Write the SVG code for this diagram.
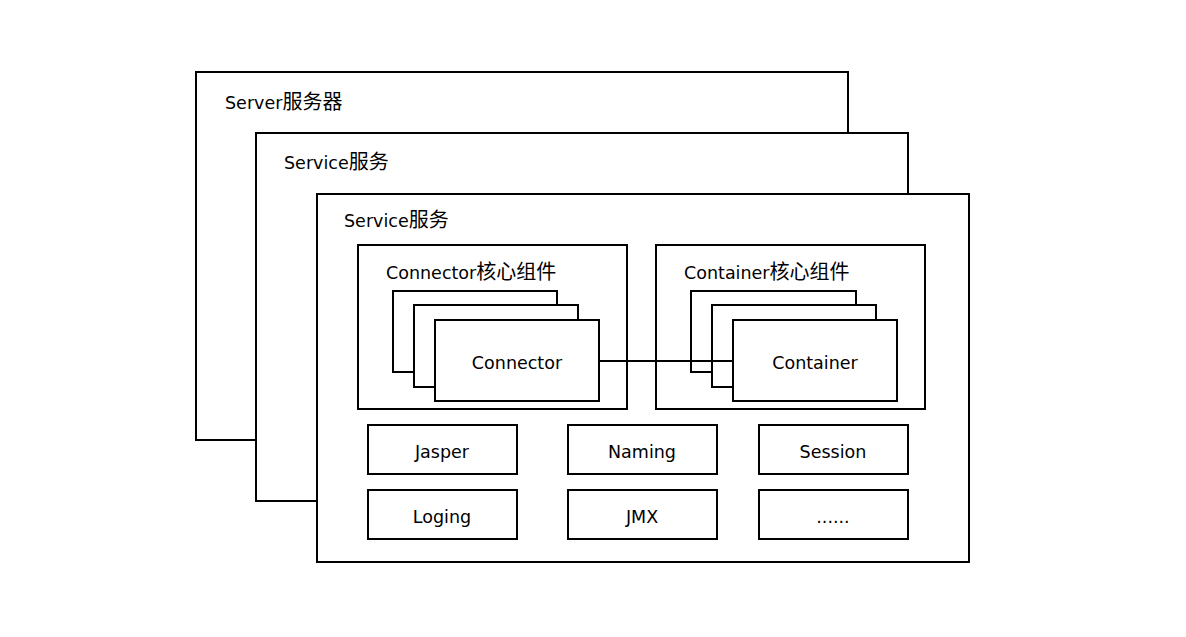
<svg xmlns="http://www.w3.org/2000/svg" width="1186" height="637" viewBox="0 0 1186 637">
<style>
rect{fill:#fff;stroke:#000;stroke-width:2}
text{font-family:"DejaVu Sans","Noto Sans CJK SC",sans-serif;font-size:17.5px;fill:#000}
.z{font-family:"Noto Sans CJK SC",sans-serif;font-size:20px}
.c{text-anchor:middle}
line{stroke:#000;stroke-width:2}
</style>
<rect width="1186" height="637" style="stroke:none"/>
<g id="server"><rect x="196" y="72" width="652" height="368"/><text x="225" y="109">Server<tspan class="z">服务器</tspan></text></g>
<g id="service1"><rect x="256" y="133" width="652" height="368"/><text x="284" y="169">Service<tspan class="z">服务</tspan></text></g>
<g id="service2"><rect x="317" y="194" width="652" height="368"/><text x="344" y="227">Service<tspan class="z">服务</tspan></text></g>
<g id="connector-group"><rect x="358" y="245" width="269" height="164"/><text x="386" y="279">Connector<tspan class="z">核心组件</tspan></text></g>
<g id="container-group"><rect x="656" y="245" width="269" height="164"/><text x="684" y="279">Container<tspan class="z">核心组件</tspan></text></g>
<g id="connector-stack">
<rect x="393" y="291" width="164" height="81"/>
<rect x="414" y="305" width="164" height="82"/>
<rect x="435" y="320" width="164" height="81"/>
<text class="c" x="517" y="369">Connector</text>
</g>
<g id="container-stack">
<rect x="691" y="291" width="165" height="81"/>
<rect x="712" y="305" width="164" height="82"/>
</g>
<g id="connectors"><line x1="599" y1="361" x2="733" y2="361"/></g>
<g id="container-front">
<rect x="733" y="320" width="164" height="81"/>
<text class="c" x="815" y="369">Container</text>
</g>
<g id="jasper"><rect x="368" y="425" width="149" height="49"/><text class="c" x="442" y="458">Jasper</text></g>
<g id="naming"><rect x="568" y="425" width="149" height="49"/><text class="c" x="642" y="458">Naming</text></g>
<g id="session"><rect x="759" y="425" width="149" height="49"/><text class="c" x="833" y="458">Session</text></g>
<g id="loging"><rect x="368" y="490" width="149" height="49"/><text class="c" x="442" y="523">Loging</text></g>
<g id="jmx"><rect x="568" y="490" width="149" height="49"/><text class="c" x="642" y="523">JMX</text></g>
<g id="more"><rect x="759" y="490" width="149" height="49"/><text class="c" x="833" y="523">......</text></g>
</svg>
